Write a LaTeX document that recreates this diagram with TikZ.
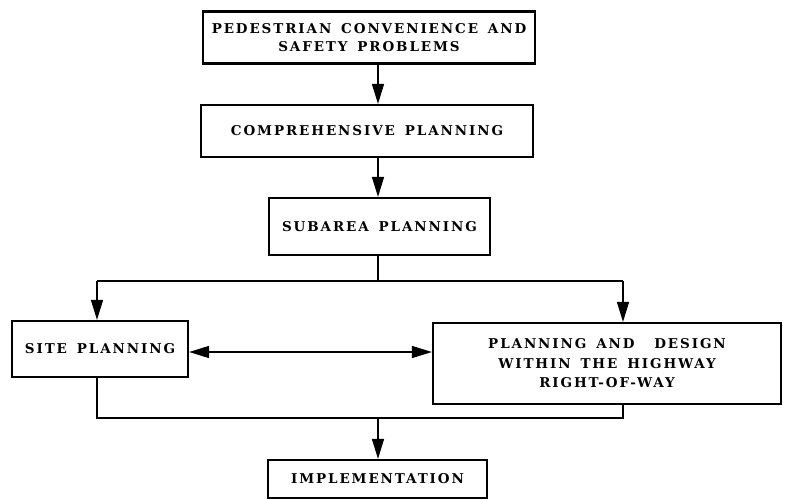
\documentclass[tikz,border=0pt]{standalone}
\usepackage{fontspec}
\setmainfont{DejaVu Serif}[LetterSpace=14,WordSpace=1.5]
\usetikzlibrary{arrows.meta}
\tikzset{
  box/.style={draw, line width=2.2pt, align=center, inner sep=0pt,
    font=\bfseries\fontsize{13.5}{18}\selectfont},
  link/.style={line width=1.3pt},
  tip/.tip={Triangle[length=20pt,width=12pt]},
  arr/.style={link, -tip},
  dbl/.style={link, tip-tip}
}
\begin{document}
\begin{tikzpicture}[x=1pt,y=-1pt]
  \useasboundingbox (0,0) rectangle (785,500);
  % process boxes
  \node[box, minimum width=332pt, minimum height=52pt] (prob) at (369,37.5)
    {PEDESTRIAN CONVENIENCE AND\\SAFETY PROBLEMS};
  \node[box, minimum width=332pt, minimum height=52pt] (comp) at (367,131)
    {COMPREHENSIVE PLANNING};
  \node[box, minimum width=221pt, minimum height=57pt] (sub) at (379.5,226.5)
    {SUBAREA PLANNING};
  \node[box, minimum width=176pt, minimum height=56pt] (site) at (100,349)
    {SITE PLANNING};
  \node[box, minimum width=348pt, minimum height=81pt, font=\bfseries\fontsize{13.5}{19.5}\selectfont] (row) at (607,363.5)
    {PLANNING AND~~DESIGN\\WITHIN THE HIGHWAY\\RIGHT-OF-WAY};
  \node[box, minimum width=219pt, minimum height=38pt] (impl) at (377.5,479)
    {IMPLEMENTATION};
  % routing points
  \coordinate (mid) at (378,0);
  \coordinate (lx) at (97,0);
  \coordinate (rx) at (623,0);
  \coordinate (split) at (0,281);
  \coordinate (join) at (0,418);
  \coordinate (cross) at (0,352);
  % connectors
  \draw[arr] (prob.south -| mid) -- (comp.north -| mid);
  \draw[arr] (comp.south -| mid) -- (sub.north -| mid);
  \draw[link] (sub.south -| mid) -- (mid |- split);
  \draw[link] (lx |- split) -- (rx |- split);
  \draw[arr] (lx |- split) -- (site.north -| lx);
  \draw[arr] (rx |- split) -- (row.north -| rx);
  \draw[dbl] (site.east |- cross) -- (row.west |- cross);
  \draw[link] (site.south -| lx) -- (lx |- join) -- (rx |- join) -- (row.south -| rx);
  \draw[arr] (mid |- join) -- (impl.north -| mid);
\end{tikzpicture}
\end{document}
